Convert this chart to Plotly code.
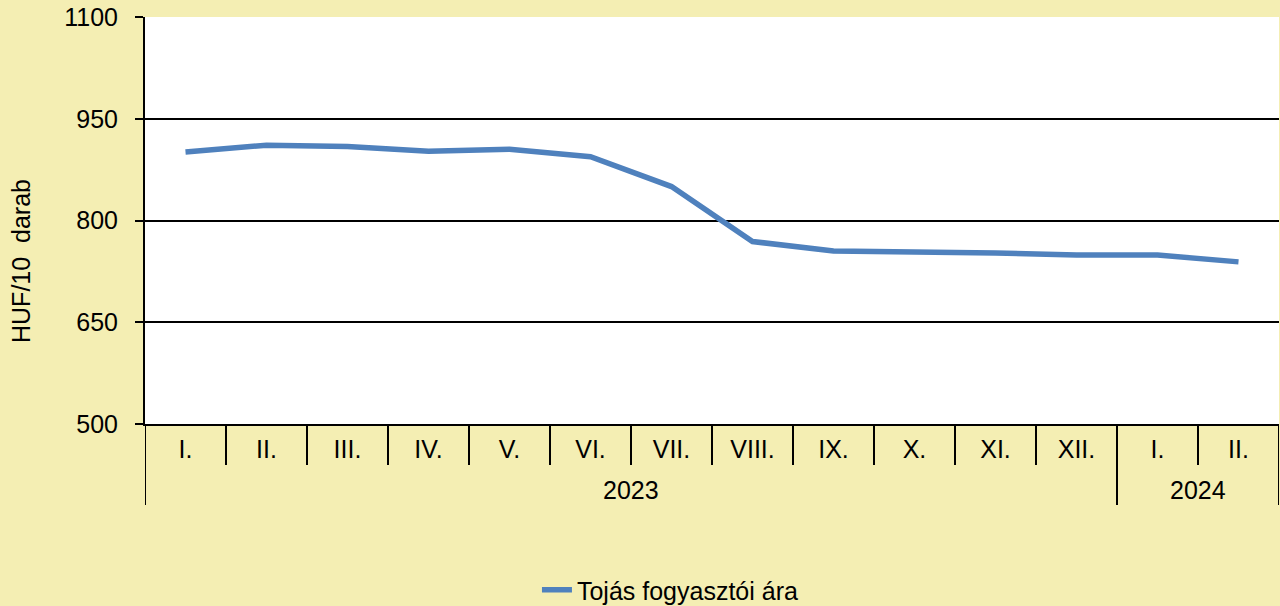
import plotly.graph_objects as go

years = ["2023"] * 12 + ["2024"] * 2
months = ["I.", "II.", "III.", "IV.", "V.", "VI.", "VII.", "VIII.", "IX.", "X.", "XI.", "XII.", "I.", "II."]
prices = [901, 911, 909, 902, 905, 894, 850, 769, 755, 754, 752, 749, 749, 739]
series_name = "Tojás fogyasztói ára"
y_title = "HUF/10  darab"
y_ticks = [500, 650, 800, 950, 1100]

BG = "#F4EEB3"
LINE = "#4F81BD"
FONT = "Liberation Sans, Arial, sans-serif"
FS = 25

n = len(months)
idx = list(range(n))

fig = go.Figure()
fig.add_trace(go.Scatter(
    x=idx, y=prices, mode="lines", name=series_name,
    line=dict(color=LINE, width=5.5),
))

# year groups
groups = []
for i, yv in enumerate(years):
    if not groups or groups[-1][0] != yv:
        groups.append([yv, i, i])
    else:
        groups[-1][2] = i

shapes = []
annotations = []
PLOT_H = 606 - 17 - 182
PLOT_W = 1280 - 145 - 1
tick_len = -41 / PLOT_H
div_len = -81 / PLOT_H
year_y = -66 / PLOT_H

# ticks between months (within a year group)
for i in range(1, n):
    if years[i] == years[i - 1]:
        shapes.append(dict(type="line", xref="x", yref="paper", x0=i - 0.5, x1=i - 0.5,
                           y0=0, y1=tick_len, line=dict(color="black", width=2)))
# dividers at group boundaries
bounds = [groups[0][1] - 0.5] + [g[2] + 0.5 for g in groups]
for b in bounds:
    shapes.append(dict(type="line", xref="x", yref="paper", x0=b, x1=b,
                       y0=0, y1=div_len, line=dict(color="black", width=2)))
for g in groups:
    annotations.append(dict(x=(g[1] + g[2]) / 2, y=year_y, xref="x", yref="paper",
                            text=g[0], showarrow=False, font=dict(size=FS),
                            xanchor="center", yanchor="middle"))
# y-axis title
annotations.append(dict(x=-124 / PLOT_W, y=163 / PLOT_H, xref="paper", yref="paper",
                        text=y_title, textangle=-90, showarrow=False,
                        font=dict(size=25), xanchor="center", yanchor="middle"))

fig.update_layout(
    width=1280, height=606,
    paper_bgcolor=BG, plot_bgcolor="white",
    margin=dict(l=145, r=1, t=17, b=182),
    font=dict(family=FONT, size=FS, color="black"),
    showlegend=True,
    legend=dict(orientation="h", xref="container", yref="container",
                x=0.4195, xanchor="left", y=1 - 590 / 606, yanchor="middle",
                font=dict(size=FS), bgcolor="rgba(0,0,0,0)"),
    shapes=shapes,
    annotations=annotations,
    xaxis=dict(
        range=[-0.5, n - 0.5],
        tickvals=idx, ticktext=months,
        showline=True, linecolor="black", linewidth=2,
        ticks="", showgrid=False, zeroline=False,
        tickfont=dict(size=FS),
        ticklabelstandoff=2,
    ),
    yaxis=dict(
        range=[500, 1100], tickvals=y_ticks,
        showline=True, linecolor="black", linewidth=2,
        showgrid=True, gridcolor="black", gridwidth=2,
        ticks="outside", ticklen=8, tickcolor="black", tickwidth=2,
        tickfont=dict(size=FS),
        ticklabelstandoff=12,
        zeroline=False,
    ),
)

fig.write_html("out.html", config={"displayModeBar": False},
               post_script="document.body.style.margin='0';")
